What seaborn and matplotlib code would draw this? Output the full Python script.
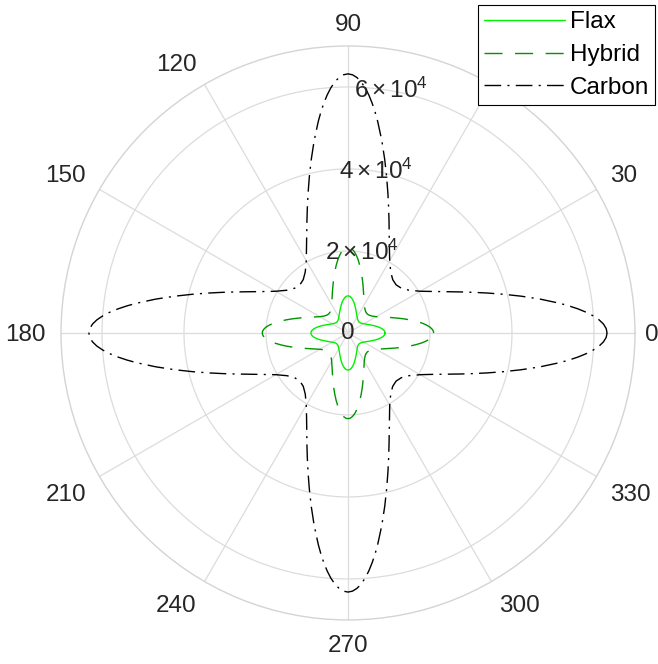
import numpy as np
import matplotlib
matplotlib.use("Agg")
import matplotlib.pyplot as plt
import seaborn as sns

# Directional modulus of three cross-ply laminates, given over one quadrant
# (0-90 deg); the laminates are symmetric about both axes.
theta_deg = [0, 1, 2, 3, 4, 5, 6, 7, 8, 10, 12, 14, 16, 18, 20, 23, 26, 30, 35, 40,
             45, 50, 55, 60, 64, 67, 70, 72, 74, 76, 78, 80, 82, 83, 84, 85, 86, 87,
             88, 89, 90]

flax = [9050, 9030, 8990, 8920, 8810, 8690, 8540, 8370, 8190, 7790, 7370, 6940,
        6520, 6130, 5760, 5280, 4870, 4450, 4080, 3870, 3800, 3870, 4080, 4450,
        4870, 5280, 5760, 6130, 6520, 6940, 7370, 7790, 8190, 8370, 8540, 8690,
        8810, 8920, 8990, 9030, 9050]

hybrid = [20900, 20850, 20680, 20420, 20060, 19620, 19110, 18550, 17950, 16670,
          15390, 14150, 12990, 11950, 11030, 9850, 8910, 7960, 7170, 6740, 6600,
          6740, 7170, 7960, 8910, 9850, 11030, 11950, 12990, 14150, 15390, 16670,
          17950, 18550, 19110, 19620, 20060, 20420, 20680, 20850, 20900]

carbon = [63200, 62980, 62350, 61320, 59940, 58270, 56360, 54280, 52090, 47580,
          43160, 39040, 35340, 32080, 29260, 25770, 23040, 20350, 18170, 16980,
          16600, 16980, 18170, 20350, 23040, 25770, 29260, 32080, 35340, 39040,
          43160, 47580, 52090, 54280, 56360, 58270, 59940, 61320, 62350, 62980,
          63200]

series_names = ["Flax", "Hybrid", "Carbon"]
theta_tick_deg = list(range(0, 360, 30))
theta_tick_labels = [str(a) for a in theta_tick_deg]
r_ticks = [0, 20000, 40000, 60000]
r_tick_labels = ["0", r"$2\times10^{4}$", r"$4\times10^{4}$", r"$6\times10^{4}$"]
r_max = 70000

sns.set_theme(style="white")
plt.rcParams["font.family"] = ["Liberation Sans", "DejaVu Sans"]
plt.rcParams["mathtext.fontset"] = "custom"
plt.rcParams["mathtext.rm"] = "Liberation Sans"
plt.rcParams["mathtext.it"] = "Liberation Sans:italic"
plt.rcParams["mathtext.bf"] = "Liberation Sans:bold"
plt.rcParams["lines.scale_dashes"] = False

TEXT = "#262626"
FS = 17.5


def full_turn(values):
    """Unfold one quadrant into a closed curve over 0-360 deg."""
    th = np.asarray(theta_deg, float)
    r = np.asarray(values, float)
    ang = np.concatenate([th, 180 - th[::-1][1:], 180 + th[1:], 360 - th[::-1][1:]])
    rad = np.concatenate([r, r[::-1][1:], r[1:], r[::-1][1:]])
    return np.deg2rad(ang), rad


fig = plt.figure(figsize=(6.58, 6.64), dpi=100)
ax = fig.add_axes([0.0927, 0.0663, 0.8723, 0.8645], projection="polar")

styles = {
    "Flax": dict(color="#00f000", linestyle="-"),
    "Hybrid": dict(color="#009400", linestyle=(0, (13, 9))),
    "Carbon": dict(color="black", linestyle=(0, (12, 4.5, 1.5, 4.5))),
}
for name, vals in zip(series_names, [flax, hybrid, carbon]):
    t, r = full_turn(vals)
    sns.lineplot(x=t, y=r, ax=ax, sort=False, estimator=None, errorbar=None,
                 linewidth=1.0, label=name, **styles[name])

# Polar grid
ax.set_xticks(np.deg2rad(theta_tick_deg))
ax.set_xticklabels([])
ax.set_yticks(r_ticks[1:])
ax.set_yticklabels([])
ax.set_ylim(0, r_max)
ax.set_xlabel("")
ax.set_ylabel("")
ax.grid(True, color="#dcdcdc", linewidth=0.9)
ax.spines["polar"].set_color("#d4d4d4")
ax.spines["polar"].set_linewidth(1.0)
ax.tick_params(length=0)

# Angle labels just outside the rim
for a, lab in zip(theta_tick_deg, theta_tick_labels):
    c, s = np.cos(np.deg2rad(a)), np.sin(np.deg2rad(a))
    gap = 7.5 if a == 0 else 11
    ha = "left" if c > 0.05 else ("right" if c < -0.05 else "center")
    va = "baseline" if s > 0.05 else ("top" if s < -0.05 else "center_baseline")
    ax.annotate(lab, xy=(np.deg2rad(a), r_max), xytext=(gap * c, gap * s),
                textcoords="offset points", ha=ha, va=va, fontsize=FS,
                color=TEXT, annotation_clip=False)

# Radial labels along the 80 deg ray
for rv, lab in zip(r_ticks, r_tick_labels):
    ax.text(np.deg2rad(80), rv, lab, ha="center", va="center", fontsize=FS,
            color=TEXT, zorder=4)

leg = ax.legend(loc="upper right", bbox_to_anchor=(655 / 658, 659 / 664),
                bbox_transform=fig.transFigure, frameon=True, fancybox=False,
                edgecolor="black", framealpha=1, fontsize=FS, handlelength=3.3,
                handletextpad=0.2, borderpad=0.25, labelspacing=0.45,
                borderaxespad=0)
leg.get_frame().set_linewidth(0.8)
for txt in leg.get_texts():
    txt.set_color("black")
leg.set_zorder(10)

fig.savefig("out.png", dpi=100)
